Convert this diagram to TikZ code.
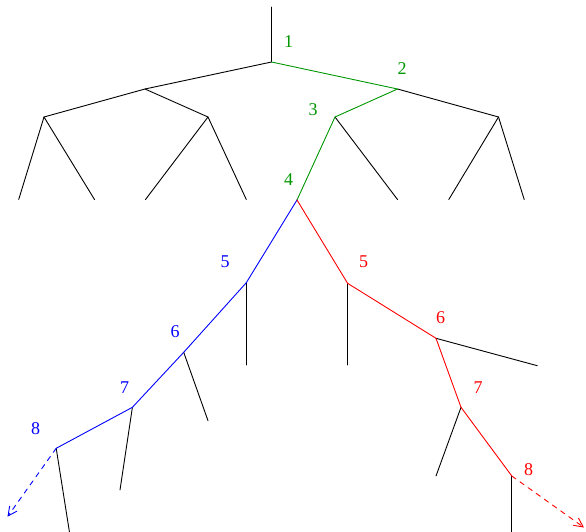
\documentclass[tikz,border=0pt]{standalone}
\usepackage{fontspec}
\setmainfont{Liberation Serif}
\usetikzlibrary{arrows.meta}
\definecolor{trink}{HTML}{000000}
\definecolor{trgreen}{HTML}{009600}
\definecolor{trblue}{HTML}{0000FF}
\definecolor{trred}{HTML}{FF0000}
\tikzset{
  trline/.style={draw=trink, line width=0.9pt},
  trpath/.style={line width=0.9pt},
  trtag/.style={font=\fontsize{18}{18}\selectfont, inner sep=0pt},
  trmore/.style={dashed, dash pattern=on 5pt off 5pt,
    -{Straight Barb[length=9pt, width=9pt]}},
  every picture/.style={line cap=round, line join=round},
}
\begin{document}
\begin{tikzpicture}[x=1pt, y=-1pt]
\useasboundingbox (0, 0) rectangle (586, 532);

% Upper tree.
\coordinate (top) at (271.5, 7);
\coordinate (root) at (271.5, 62);
\coordinate (a) at (145, 89);
\coordinate (b) at (397.5, 89);
\coordinate (aa) at (44, 117);
\coordinate (ab) at (208, 117);
\coordinate (ba) at (335, 117);
\coordinate (bb) at (498.5, 117);
\coordinate (n4) at (297, 200);
\foreach \n/\x in {aa1/18.7, aa2/94.5, ab1/145.5, ab2/246.3,
                   ba2/397.5, bb1/448.8, bb2/524.2} {
  \coordinate (\n) at (\x, 199.5);
}
\draw[trline] (top) -- (root) -- (a);
\draw[trline] (aa) -- (a) -- (ab);
\draw[trline] (b) -- (bb);
\foreach \p/\c in {aa/aa1, aa/aa2, ab/ab1, ab/ab2, ba/ba2, bb/bb1, bb/bb2} {
  \draw[trline] (\p) -- (\c);
}
\draw[trpath, trgreen] (root) -- (b) -- (ba) -- (n4);

% ------------------------------------------------------------ blue
\coordinate (b5) at (246.3, 282.7);
\coordinate (b6) at (183.7, 352.3);
\coordinate (b7) at (132.4, 407.3);
\coordinate (b8) at (56.2, 448.3);
\coordinate (b5x) at (246.3, 365);
\coordinate (b6x) at (208, 420.7);
\coordinate (b7x) at (120, 490);
\coordinate (b8x) at (69.4, 531.7);
\coordinate (bend) at (7.5, 516.7);
\foreach \n in {5, 6, 7, 8} {
  \draw[trline] (b\n) -- (b\n x);
}
\draw[trpath, trblue] (n4) -- (b5) -- (b6) -- (b7) -- (b8);
\draw[trpath, trblue, trmore] (b8) -- (bend);

% ------------------------------------------------------------- red
\coordinate (r5) at (347.6, 283.3);
\coordinate (r6) at (436, 338.3);
\coordinate (r7) at (461, 407.3);
\coordinate (r8) at (511.8, 476);
\coordinate (r5x) at (347.6, 365);
\coordinate (r6x) at (537.3, 365.7);
\coordinate (r7x) at (436, 476);
\coordinate (r8x) at (511.8, 531.7);
\coordinate (rend) at (584, 527.5);
\foreach \n in {5, 6, 7, 8} {
  \draw[trline] (r\n) -- (r\n x);
}
\draw[trpath, trred] (n4) -- (r5) -- (r6) -- (r7) -- (r8);
\draw[trpath, trred, trmore] (r8) -- (rend);

% Step numbers.
\node[trtag, text=trgreen] (t1) at (288.7, 42) {1};
\node[trtag, text=trgreen] (t2) at (402, 69) {2};
\node[trtag, text=trgreen] (t3) at (313, 110) {3};
\node[trtag, text=trgreen] (t4) at (288.7, 180) {4};
\node[trtag, text=trblue] (tb5) at (225, 262) {5};
\node[trtag, text=trblue] (tb6) at (175, 332) {6};
\node[trtag, text=trblue] (tb7) at (124.5, 387.3) {7};
\node[trtag, text=trblue] (tb8) at (35.6, 428.3) {8};
\node[trtag, text=trred] (tr5) at (363.7, 262) {5};
\node[trtag, text=trred] (tr6) at (440.6, 317.3) {6};
\node[trtag, text=trred] (tr7) at (478, 387.3) {7};
\node[trtag, text=trred] (tr8) at (528.7, 470) {8};

\end{tikzpicture}
\end{document}
